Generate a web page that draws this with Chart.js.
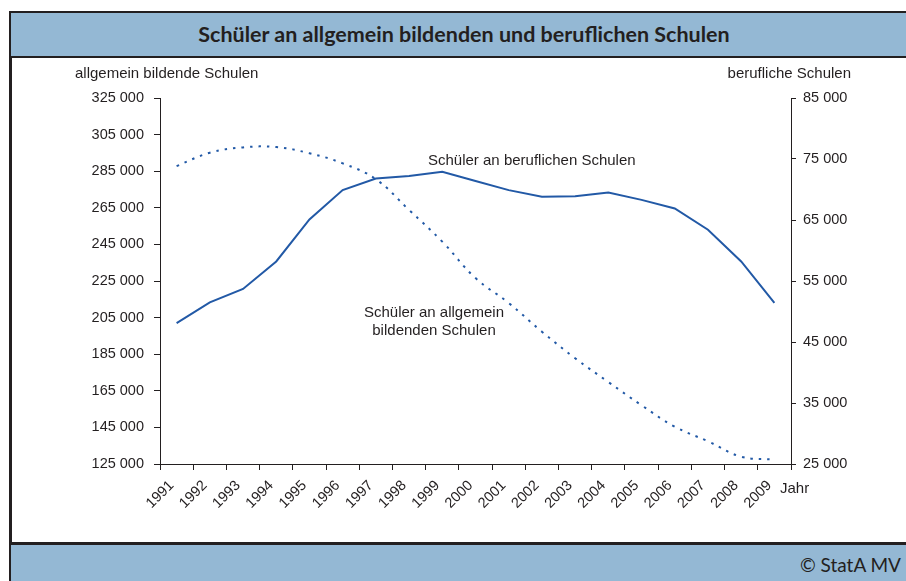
<!DOCTYPE html>
<html>
<head>
<meta charset="utf-8">
<script src="https://cdn.jsdelivr.net/npm/chart.js@4.4.1/dist/chart.umd.min.js"></script>
<style>
  html, body { margin: 0; padding: 0; background: #fff; overflow: hidden; }
  body { width: 906px; height: 581px; position: relative; }
  .line { position: absolute; background: #231f20; }
  .bar { position: absolute; background: #94b8d4; left: 11px; width: 895px; box-sizing: border-box; }
  #title { top: 13px; height: 43px; font: bold 21.5px Lato, "Open Sans", sans-serif; color: #231f20;
           text-align: center; line-height: 43px; padding-left: 11px; }
  #footer { top: 545px; height: 36px; font: 19px Lato, "Open Sans", sans-serif; color: #231f20;
            text-align: right; line-height: 40px; padding-right: 5px; }
  #wrap { position: absolute; left: 11px; top: 58px; width: 895px; height: 484px; }
</style>
</head>
<body>
<div class="line" style="left:9px;top:11px;width:897px;height:2.5px"></div>
<div class="line" style="left:9px;top:11px;width:2.5px;height:570px"></div>
<div class="bar" id="title">Schüler an allgemein bildenden und beruflichen Schulen</div>
<div class="line" style="left:9px;top:56px;width:897px;height:2px"></div>
<div class="line" style="left:9px;top:542px;width:897px;height:2.5px"></div>
<div class="bar" id="footer">© StatA MV</div>
<div id="wrap"><canvas id="myChart"></canvas></div>

<script>
// Jahre und Schülerzahlen
const years = ["1991", "1992", "1993", "1994", "1995", "1996", "1997", "1998", "1999", "2000",
               "2001", "2002", "2003", "2004", "2005", "2006", "2007", "2008", "2009"];
const allgemein = [287800, 295100, 298000, 298200, 294800, 289300, 280600, 263800, 246500, 226600,
                   213000, 197300, 182800, 169800, 157100, 145400, 137400, 129000, 127400];
const beruflich = [48100, 51500, 53700, 58200, 65100, 69900, 71800, 72200, 72900, 71400,
                   69900, 68800, 68900, 69500, 68300, 66900, 63400, 58200, 51400];

const leftTicks = { min: 125000, max: 325000, step: 20000 };
const rightTicks = { min: 25000, max: 85000, step: 10000 };

const ink = "#231f20";
const blue = "#2259a6";
const font = { family: '"Liberation Sans", Arial, sans-serif', size: 14.5 };

function fmt(v) {
    return String(v).replace(/\B(?=(\d{3})+(?!\d))/g, " ");
}

// Achsentitel und Beschriftungen
const labelsPlugin = {
    id: "labels",
    afterDraw(chart) {
        const c = chart.ctx;
        const a = chart.chartArea;
        c.save();
        c.fillStyle = ink;
        c.font = '15px "Liberation Sans", Arial, sans-serif';
        c.textBaseline = "middle";
        c.textAlign = "left";
        c.fillText("allgemein bildende Schulen", a.left - 85, a.top - 24);
        c.fillText("Jahr", a.right - 11, a.bottom + 25);
        c.fillText("Schüler an beruflichen Schulen", a.left + 268, a.top + 63);
        c.textAlign = "right";
        c.fillText("berufliche Schulen", a.right + 60, a.top - 24);
        c.textAlign = "center";
        c.fillText("Schüler an allgemein", a.left + 274, a.top + 215);
        c.fillText("bildenden Schulen", a.left + 274, a.top + 233);
        c.restore();
    }
};

new Chart(document.getElementById("myChart"), {
    type: "line",
    data: {
        labels: years,
        datasets: [{
            label: "Schüler an allgemein bildenden Schulen",
            data: allgemein,
            yAxisID: "y",
            borderColor: blue,
            borderWidth: 2,
            borderDash: [2.5, 6],
            tension: 0.4,
            pointRadius: 0
        }, {
            label: "Schüler an beruflichen Schulen",
            data: beruflich,
            yAxisID: "y1",
            borderColor: blue,
            borderWidth: 2,
            tension: 0,
            pointRadius: 0
        }]
    },
    options: {
        responsive: true,
        maintainAspectRatio: false,
        animation: false,
        layout: { padding: { top: 40, left: 0, right: 0, bottom: 0 } },
        plugins: {
            legend: { display: false },
            title: { display: false },
            tooltip: { enabled: false }
        },
        scales: {
            x: {
                offset: true,
                grid: { offset: true, drawOnChartArea: false, drawTicks: true, tickLength: 6, color: ink },
                border: { color: ink, width: 1 },
                ticks: { color: ink, font: font, maxRotation: 45, minRotation: 45, autoSkip: false,
                         padding: 7, labelOffset: -5 },
                afterFit(scale) { scale.height = 78; }
            },
            y: {
                position: "left",
                min: leftTicks.min,
                max: leftTicks.max,
                grid: { drawOnChartArea: false, tickLength: 6, color: ink },
                border: { color: ink, width: 1 },
                ticks: { stepSize: leftTicks.step, color: ink, font: font, padding: 10, callback: fmt },
                afterFit(scale) { scale.width = 149; }
            },
            y1: {
                position: "right",
                min: rightTicks.min,
                max: rightTicks.max,
                grid: { drawOnChartArea: false, tickLength: 5, color: ink },
                border: { color: ink, width: 1 },
                ticks: { stepSize: rightTicks.step, color: ink, font: font, padding: 7, callback: fmt },
                afterFit(scale) { scale.width = 115; }
            }
        }
    },
    plugins: [labelsPlugin]
});
</script>
</body>
</html>
